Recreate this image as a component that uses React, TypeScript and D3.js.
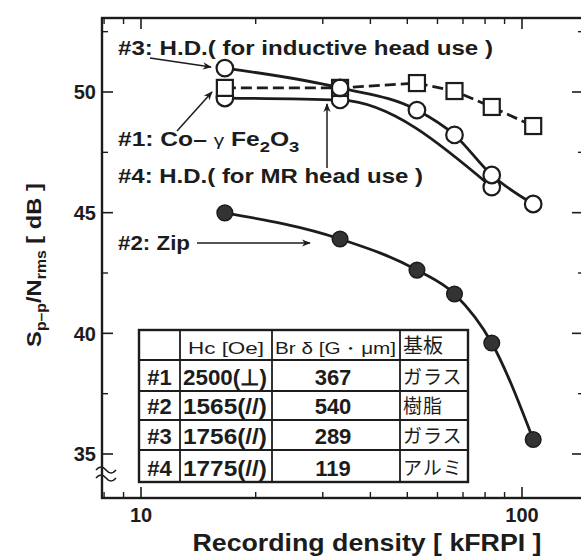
import React from 'react';
import * as d3 from 'd3';

// ---- data ----
const densityKFRPI = [16.6, 33.3, 53, 66.5, 83.3, 107];
const snrCoFe = [50.17, 50.17, 50.37, 50.04, 49.38, 48.59]; // #1 squares, dashed
const snrZip = [44.99, 43.91, 42.62, 41.63, 39.6, 35.6]; // #2 filled circles
const snrHDInductive = [50.99, 50.17, 49.25, 48.22, 46.56, 45.36]; // #3 open circles
const densityMR = [16.6, 33.3, 83.3];
const snrHDMR = [49.75, 49.67, 46.06]; // #4 open circles

const yMajorTicks = [35, 40, 45, 50];
const yMinorTicks = [37.5, 42.5, 47.5, 52.5];
const xMajorTicks = [10, 100];
const xMinorTicks = [8, 9, 20, 30, 40, 50, 60, 70, 80, 90];

const tableHeader = ['', 'Hc [Oe]', 'Br δ [G・μm]', '基板'];
const tableIds = ['#1', '#2', '#3', '#4'];
const tableHc = ['2500(⊥)', '1565(//)', '1756(//)', '1775(//)'];
const tableBr = ['367', '540', '289', '119'];
const tableSubstrate = ['ガラス', '樹脂', 'ガラス', 'アルミ'];

const INK = '#1c1c1c';
const FONT = "'Liberation Sans', Arial, Helvetica, sans-serif";
const JP = "'Noto Sans CJK JP', sans-serif";

export default function App() {
  const W = 581, H = 556;
  const left = 102, right = 584, top = 18, bottom = 498;
  const x = d3.scaleLog().domain([10, 100]).range([141, 522]);
  const y = d3.scaleLinear().domain([35, 50]).range([454, 92]);

  const line = d3.line<[number, number]>()
    .x(d => x(d[0]))
    .y(d => y(d[1]))
    .curve(d3.curveMonotoneX);

  const zip = densityKFRPI.map((d, i) => [d, snrZip[i]] as [number, number]);
  const cofe = densityKFRPI.map((d, i) => [d, snrCoFe[i]] as [number, number]);
  const hdi = densityKFRPI.map((d, i) => [d, snrHDInductive[i]] as [number, number]);
  const hdm = densityMR.map((d, i) => [d, snrHDMR[i]] as [number, number]);

  const colX = [139, 180, 272, 400, 468];
  const rowY = [330, 360, 391, 420, 450, 482];

  const sq = 16;

  return (
    <svg width={W} height={H} style={{ position: 'absolute', left: 0, top: 0, background: '#fff' }}
      fontFamily={FONT}>
      <defs>
        <marker id="ah" viewBox="0 0 10 10" refX="9" refY="5" markerWidth="9" markerHeight="9"
          orient="auto" markerUnits="userSpaceOnUse">
          <path d="M0,1 L10,5 L0,9 L3,5 Z" fill={INK} />
        </marker>
      </defs>
      <rect x={0} y={0} width={W} height={H} fill="#fff" />

      {/* frame */}
      <rect x={left} y={top} width={right - left} height={bottom - top} fill="none" stroke={INK} strokeWidth={2.4} />

      {/* y ticks (left and right, inward) */}
      {yMajorTicks.map(v => (
        <g key={'ym' + v}>
          <line x1={left} x2={left + 11} y1={y(v)} y2={y(v)} stroke={INK} strokeWidth={1.6} />
          <line x1={right} x2={right - 12} y1={y(v)} y2={y(v)} stroke={INK} strokeWidth={1.6} />
          <text x={left - 6} y={y(v)} dy="0.36em" textAnchor="end" fontSize={20} fontWeight="bold" fill={INK}>{v}</text>
        </g>
      ))}
      {yMinorTicks.map(v => (
        <g key={'yn' + v}>
          <line x1={left} x2={left + 6} y1={y(v)} y2={y(v)} stroke={INK} strokeWidth={1.4} />
          <line x1={right} x2={right - 6} y1={y(v)} y2={y(v)} stroke={INK} strokeWidth={1.4} />
        </g>
      ))}

      {/* x ticks (bottom and top, inward) */}
      {xMajorTicks.map(v => (
        <g key={'xm' + v}>
          <line x1={x(v)} x2={x(v)} y1={bottom} y2={bottom - 11} stroke={INK} strokeWidth={1.6} />
          <line x1={x(v)} x2={x(v)} y1={top} y2={top + 11} stroke={INK} strokeWidth={1.6} />
          <text x={x(v)} y={bottom + 24} textAnchor="middle" fontSize={20} fontWeight="bold" fill={INK}>{v}</text>
        </g>
      ))}
      {xMinorTicks.filter(v => x(v) > left + 1).map(v => (
        <g key={'xn' + v}>
          <line x1={x(v)} x2={x(v)} y1={bottom} y2={bottom - 6} stroke={INK} strokeWidth={1.4} />
          <line x1={x(v)} x2={x(v)} y1={top} y2={top + 6} stroke={INK} strokeWidth={1.4} />
        </g>
      ))}

      {/* axis break mark */}
      <path d={`M${left - 6},470 q5,-6 10,0 t10,0`} fill="none" stroke={INK} strokeWidth={1.6} />
      <path d={`M${left - 6},478 q5,-6 10,0 t10,0`} fill="none" stroke={INK} strokeWidth={1.6} />

      {/* axis titles */}
      <text x={367} y={551} textAnchor="middle" fontSize={23} fontWeight="bold" fill={INK}
        textLength={349} lengthAdjust="spacingAndGlyphs">
        Recording density [ kFRPI ]
      </text>
      <g transform="translate(41,265) rotate(-90) scale(1.13,1)">
        <text textAnchor="middle" fontSize={21} fontWeight="bold" fill={INK}>
          S<tspan fontSize={14} dy={5}>p–p</tspan><tspan dy={-5}>/N</tspan><tspan fontSize={14} dy={5}>rms</tspan><tspan dy={-5}> [ dB ]</tspan>
        </text>
      </g>

      {/* table */}
      <g>
        <rect x={colX[0]} y={rowY[0]} width={colX[4] - colX[0]} height={rowY[5] - rowY[0]} fill="#fff" stroke={INK} strokeWidth={2.4} />
        {colX.slice(1, 4).map(cx => (
          <line key={'c' + cx} x1={cx} x2={cx} y1={rowY[0]} y2={rowY[5]} stroke={INK} strokeWidth={1.8} />
        ))}
        {rowY.slice(1, 5).map(ry => (
          <line key={'r' + ry} x1={colX[0]} x2={colX[4]} y1={ry} y2={ry} stroke={INK} strokeWidth={1.8} />
        ))}
        <text x={colX[1] + 8} y={rowY[1] - 6} fontSize={17} fill={INK} textLength={76} lengthAdjust="spacingAndGlyphs">{tableHeader[1]}</text>
        <text x={colX[2] + 3} y={rowY[1] - 6} fontSize={16} fill={INK} textLength={121} lengthAdjust="spacingAndGlyphs">{tableHeader[2]}</text>
        <text x={colX[3] + 3} y={rowY[1] - 7} fontSize={20} fill={INK} fontFamily={JP}>{tableHeader[3]}</text>
        {tableIds.map((id, i) => {
          const base = rowY[i + 2] - 6;
          return (
            <g key={id}>
              <text x={(colX[0] + colX[1]) / 2} y={base} textAnchor="middle" fontSize={22} fontWeight="bold" fill={INK}>{id}</text>
              <text x={colX[1] + 3} y={base} fontSize={22} fontWeight="bold" fill={INK} textLength={84} lengthAdjust="spacingAndGlyphs">{tableHc[i]}</text>
              <text x={(colX[2] + colX[3]) / 2 - 3} y={base} textAnchor="middle" fontSize={22} fontWeight="bold" fill={INK}>{tableBr[i]}</text>
              <text x={colX[3] + 3} y={base - 1} fontSize={19} fill={INK} letterSpacing={1} fontFamily={JP}>{tableSubstrate[i]}</text>
            </g>
          );
        })}
      </g>

      {/* curves */}
      <path d={line(zip) || ''} fill="none" stroke={INK} strokeWidth={2.8} />
      <path d={line(hdi) || ''} fill="none" stroke={INK} strokeWidth={2.8} />
      <path d={line(hdm) || ''} fill="none" stroke={INK} strokeWidth={2.8} />
      <path d={d3.line<[number, number]>().x(d => x(d[0])).y(d => y(d[1]))(cofe) || ''} fill="none" stroke={INK}
        strokeWidth={2.8} strokeDasharray="11 5" />

      {/* markers */}
      {zip.map((d, i) => (
        <circle key={'z' + i} cx={x(d[0])} cy={y(d[1])} r={7.8} fill="#333" stroke={INK} strokeWidth={1.5} />
      ))}
      {hdm.map((d, i) => (
        <circle key={'m' + i} cx={x(d[0])} cy={y(d[1])} r={8.3} fill="#fff" stroke={INK} strokeWidth={2.2} />
      ))}
      {cofe.map((d, i) => (
        <rect key={'s' + i} x={x(d[0]) - sq / 2} y={y(d[1]) - sq / 2} width={sq} height={sq} fill="#fff" stroke={INK} strokeWidth={2.2} />
      ))}
      {hdi.map((d, i) => (
        <circle key={'i' + i} cx={x(d[0])} cy={y(d[1])} r={8.3} fill={i === 1 ? 'none' : '#fff'} stroke={INK} strokeWidth={2.2} />
      ))}

      {/* annotations */}
      <text x={118} y={55} fontSize={20} fontWeight="bold" fill={INK} textLength={375} lengthAdjust="spacingAndGlyphs">#3: H.D.( for inductive head use )</text>
      <line x1={150} y1={58} x2={211} y2={67} stroke={INK} strokeWidth={1.5} markerEnd="url(#ah)" />

      <g transform="translate(118,146) scale(1.23,1)">
        <text x={0} y={0} fontSize={20} fontWeight="bold" fill={INK}>
          #1: Co– <tspan fontWeight="normal" fontSize={17}>γ</tspan> Fe<tspan fontSize={15} dy={6}>2</tspan><tspan dy={-6}>O</tspan><tspan fontSize={15} dy={6}>3</tspan>
        </text>
      </g>
      <line x1={177} y1={131} x2={212} y2={92} stroke={INK} strokeWidth={1.5} markerEnd="url(#ah)" />

      <text x={118} y={183} fontSize={20} fontWeight="bold" fill={INK} textLength={305} lengthAdjust="spacingAndGlyphs">#4: H.D.( for MR head use )</text>
      <line x1={327} y1={168} x2={327} y2={104} stroke={INK} strokeWidth={1.5} markerEnd="url(#ah)" />

      <text x={118} y={250} fontSize={20} fontWeight="bold" fill={INK} textLength={72} lengthAdjust="spacingAndGlyphs">#2: Zip</text>
      <line x1={197} y1={243} x2={310} y2={243} stroke={INK} strokeWidth={1.5} markerEnd="url(#ah)" />
    </svg>
  );
}
